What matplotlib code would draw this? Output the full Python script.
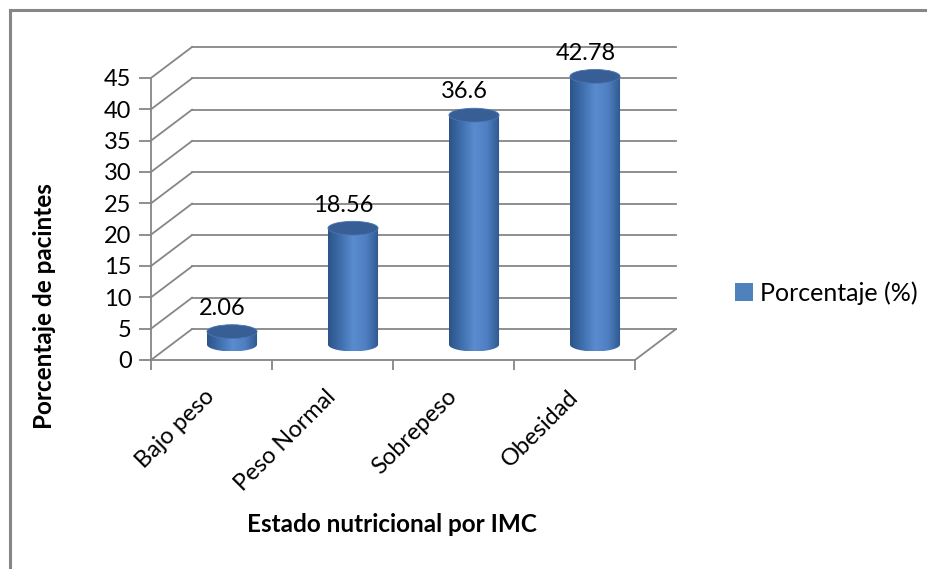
import matplotlib.pyplot as plt
import numpy as np
from matplotlib.patches import Polygon, Ellipse, Patch
from matplotlib.colors import LinearSegmentedColormap

categorias = ['Bajo peso', 'Peso Normal', 'Sobrepeso', 'Obesidad']
porcentaje = [2.06, 18.56, 36.6, 42.78]
etiquetas = ['2.06', '18.56', '36.6', '42.78']
yticks = list(range(0, 50, 5))

plt.rcParams['font.family'] = ['Lato', 'DejaVu Sans']

gris = '#868686'
dx, dy = 0.339, 4.94      # profundidad del efecto 3D (en unidades de datos)
hw, eh = 0.207, 1.1       # semiancho del cilindro, semialto de la elipse

fig = plt.figure(figsize=(9.27, 5.69), dpi=100)
ax = fig.add_axes([151/927, (569-360)/569, (676-151)/927, (360-47)/569])
ax.set_xlim(-0.5, 3.5 + dx)
ax.set_ylim(0, 45 + dy)
ax.patch.set_alpha(0)

# paredes: lineas de la rejilla
for v in yticks:
    ax.plot([-0.5, -0.5 + dx], [v, v + dy], color=gris, lw=1.3, clip_on=False)
    ax.plot([-0.5 + dx, 3.5 + dx], [v + dy, v + dy], color=gris, lw=1.3, clip_on=False)
ax.plot([3.5, 3.5 + dx], [0, dy], color=gris, lw=1.3, clip_on=False)

# cilindros
cmap = LinearSegmentedColormap.from_list('cil', ['#2c5488', '#3f6fad', '#5a8cd0', '#4f7fc2', '#2d578d'])
grad = np.linspace(0, 1, 256).reshape(1, -1)
for i, v in enumerate(porcentaje):
    cx = i + dx / 2
    y0 = dy / 2
    y1 = v + dy / 2
    t = np.linspace(np.pi, 2 * np.pi, 60)
    pts = [(cx + hw * np.cos(a), y0 + eh * np.sin(a)) for a in t]
    pts += [(cx + hw, y1), (cx - hw, y1)]
    body = Polygon(pts, closed=True, facecolor='none', edgecolor='none')
    ax.add_patch(body)
    im = ax.imshow(grad, cmap=cmap, extent=(cx - hw, cx + hw, y0 - eh, y1),
                   aspect='auto', zorder=3)
    im.set_clip_path(body)
    ax.add_patch(Ellipse((cx, y1), 2 * hw, 2 * eh, facecolor='#385f95',
                         edgecolor='#4a76b0', lw=0.6, zorder=4))
    ax.text(cx - 0.08, y1 + 3.7, etiquetas[i], ha='center', va='center',
            fontsize=17, zorder=5)

ax.set_xlim(-0.5, 3.5 + dx)
ax.set_ylim(0, 45 + dy)

# ejes
for s in ['top', 'right']:
    ax.spines[s].set_visible(False)
ax.spines['left'].set_bounds(0, 45)
ax.spines['bottom'].set_bounds(-0.5, 3.5)
for s in ['left', 'bottom']:
    ax.spines[s].set_color(gris)
    ax.spines[s].set_linewidth(1.3)
ax.set_yticks(yticks)
ax.set_yticklabels([str(v) for v in yticks], fontsize=17)
ax.tick_params(axis='y', length=9, width=1.3, color=gris, pad=5)
ax.set_xticks(range(len(categorias)))
ax.set_xticklabels(categorias, rotation=45, ha='right', va='center',
                   rotation_mode='anchor', fontsize=17)
ax.tick_params(axis='x', which='major', length=0, pad=24)
ax.set_xticks(np.arange(-0.5, 4, 1), minor=True)
ax.tick_params(axis='x', which='minor', length=7, width=1.3, color=gris)

fig.text(45/927, 1 - 306/569, 'Porcentaje de pacintes', rotation=90,
         ha='center', va='center', fontsize=17.5, fontweight='bold')
fig.text(392/927, 1 - 525/569, 'Estado nutricional por IMC',
         ha='center', va='center', fontsize=17.5, fontweight='bold')

fig.legend(handles=[Patch(facecolor='#4f81bd', edgecolor='none')],
           labels=['Porcentaje (%)'], loc='center left',
           bbox_to_anchor=(735/927, 1 - 293/569), frameon=False,
           handlelength=0.7, handleheight=0.7, handletextpad=0.3,
           borderpad=0, borderaxespad=0, fontsize=18)

# borde del area del grafico
fig.add_artist(plt.Line2D([10/927, 10/927], [0, 1 - 10/569], color=gris, lw=2.2))
fig.add_artist(plt.Line2D([10/927, 1], [1 - 10/569, 1 - 10/569], color=gris, lw=2.2))

fig.savefig('out.png', dpi=100)
